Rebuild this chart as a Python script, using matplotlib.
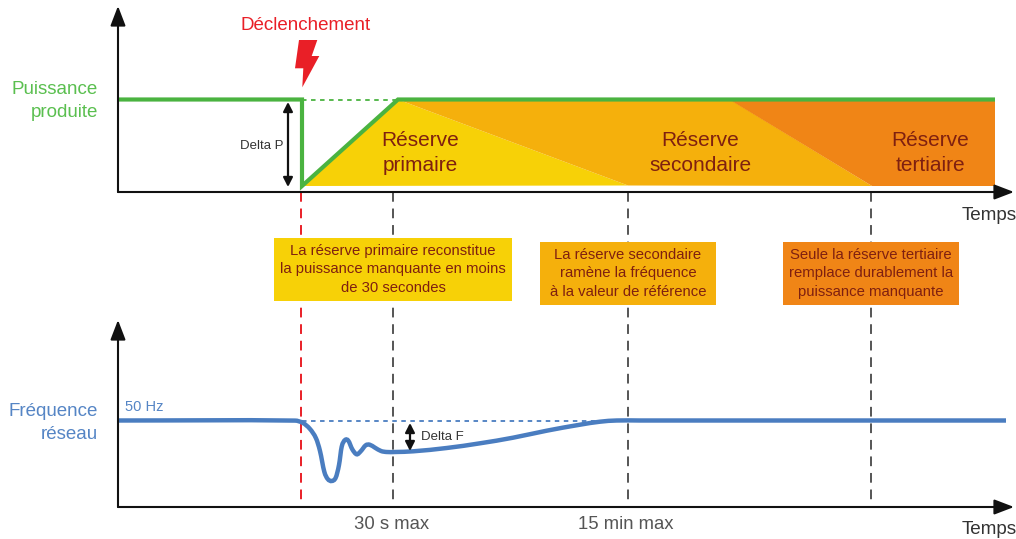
import matplotlib
matplotlib.use('Agg')
import matplotlib.pyplot as plt
from matplotlib.path import Path
from matplotlib.patches import PathPatch, Polygon, Rectangle

plt.rcParams['font.family'] = ['Liberation Sans', 'DejaVu Sans']

power_x = [118, 302, 302, 398, 995]
power_y = [99.5, 99.5, 186, 99.5, 99.5]

freq_x = [118, 295, 303, 310, 316, 320, 324.3, 327.7, 331.7, 335.7, 339, 341.7, 345, 348.3, 352.3,
          356.7, 360.7, 365.7, 369.7, 375, 381, 386.7, 395, 413.3, 446.7, 480, 513, 546.7, 580, 600, 616.7, 640, 1006]
freq_y = [420.5, 420.6, 423, 429, 438.3, 451, 471.7, 479, 481, 477.7, 465, 446.7, 440, 440.7, 449.3,
          454.3, 451.3, 445.3, 444.7, 447.7, 451, 452, 452, 451.3, 448, 443.3, 437.7, 430.7, 424.7, 421.7, 420.5, 420.5, 420.5]

primary_x = [302, 398, 628]
primary_y = [186, 99.5, 185.5]
secondary_x = [398, 730, 872, 628]
secondary_y = [99.5, 99.5, 186, 185.5]
tertiary_x = [730, 995, 995, 872]
tertiary_y = [99.5, 99.5, 186, 186]

bolt_x = [299, 317.3, 311.7, 319.3, 302.3, 303.3, 295]
bolt_y = [40, 40, 56, 56, 87.3, 68.3, 68.3]

trigger_x = 301
step_x = [393, 628, 871]

box_text = ["La réserve primaire reconstitue\nla puissance manquante en moins\nde 30 secondes",
            "La réserve secondaire\nramène la fréquence\nà la valeur de référence",
            "Seule la réserve tertiaire\nremplace durablement la\npuissance manquante"]
box_left = [274, 540, 783]
box_right = [512, 716, 959]
box_top = [238, 242, 242]
box_bottom = [301, 305, 305]

YELLOW = '#F7D107'
AMBER = '#F5B00C'
ORANGE = '#F08516'
BROWN = '#7F2010'
GREEN = '#4AB340'
BLUE = '#4A7DC0'
RED = '#E91F27'
GREY = '#555555'
DARK = '#333333'


def smooth_path(x, y):
    # smooth curve through the read points, drawn as bezier segments
    n = len(x)
    slope = []
    for i in range(n):
        a, b = max(i - 1, 0), min(i + 1, n - 1)
        slope.append((y[b] - y[a]) / (x[b] - x[a]))
    verts = [(x[0], y[0])]
    codes = [Path.MOVETO]
    for i in range(n - 1):
        h = (x[i + 1] - x[i]) / 3
        verts.append((x[i] + h, y[i] + slope[i] * h))
        verts.append((x[i + 1] - h, y[i + 1] - slope[i + 1] * h))
        verts.append((x[i + 1], y[i + 1]))
        codes += [Path.CURVE4] * 3
    return Path(verts, codes)


def arrow(ax, start, end, style='-|>,head_length=12,head_width=4.6', lw=1.5):
    ax.annotate('', xy=end, xytext=start, zorder=6,
                arrowprops=dict(arrowstyle=style, color='#111111', lw=lw, shrinkA=0, shrinkB=0,
                                mutation_scale=1))


def main():

    fig = plt.figure(figsize=(10.16, 5.39), dpi=100)
    ax = fig.add_axes([0, 0, 1, 1])
    ax.set_xlim(0, 1016)
    ax.set_ylim(539, 0)
    ax.axis('off')

    # reserve areas
    ax.add_patch(Polygon(list(zip(primary_x, primary_y)), fc=YELLOW, ec='none', zorder=1))
    ax.add_patch(Polygon(list(zip(secondary_x, secondary_y)), fc=AMBER, ec='none', zorder=1))
    ax.add_patch(Polygon(list(zip(tertiary_x, tertiary_y)), fc=ORANGE, ec='none', zorder=1))

    # vertical dashed guides
    ax.plot([trigger_x, trigger_x], [192, 507], color=RED, lw=1.4, dashes=(5, 3.5), zorder=2)
    for x in step_x:
        ax.plot([x, x], [192, 507], color=GREY, lw=1.4, dashes=(5, 3.5), zorder=2)

    # reference levels
    ax.plot([302, 398], [99.5, 99.5], color=GREEN, lw=1.3, dashes=(2.5, 2.5), zorder=2)
    ax.plot([302, 628], [420.5, 420.5], color=BLUE, lw=1.3, dashes=(2.5, 2.5), zorder=2)

    # curves
    ax.plot(power_x, power_y, color=GREEN, lw=3, solid_joinstyle='miter', solid_capstyle='butt', zorder=4)
    ax.add_patch(PathPatch(smooth_path(freq_x, freq_y), fc='none', ec=BLUE, lw=3.2, capstyle='butt', zorder=4))

    ax.add_patch(Polygon(list(zip(bolt_x, bolt_y)), fc=RED, ec='none', zorder=4))

    # axes
    for start, end in [((118, 192), (118, 6)), ((118, 192), (1014, 192)),
                       ((118, 507), (118, 320)), ((118, 507), (1014, 507))]:
        arrow(ax, start, end)

    # delta arrows
    both = '<|-|>,head_length=5.5,head_width=2.8'
    arrow(ax, (288, 102), (288, 187), style=both, lw=1.6)
    arrow(ax, (410, 423), (410, 451), style=both, lw=1.6)

    # note boxes
    colors = [YELLOW, AMBER, ORANGE]
    for i in range(3):
        ax.add_patch(Rectangle((box_left[i], box_top[i]), box_right[i] - box_left[i], box_bottom[i] - box_top[i],
                               fc=colors[i], ec='none', zorder=5))
        ax.text((box_left[i] + box_right[i]) / 2, (box_top[i] + box_bottom[i]) / 2, box_text[i], color=BROWN,
                fontsize=10.7, ha='center', va='center', linespacing=1.38, zorder=6)

    # text
    ax.text(305.5, 25, 'Déclenchement', color=RED, fontsize=13.5, ha='center', va='center')
    ax.text(98, 101, 'Puissance\nproduite', color='#5ABF4F', fontsize=13.5, ha='right', va='center', linespacing=1.4)
    ax.text(97.5, 423, 'Fréquence\nréseau', color='#5585C5', fontsize=13.5, ha='right', va='center', linespacing=1.4)
    ax.text(125, 407, '50 Hz', color='#5585C5', fontsize=10.5, ha='left', va='center')
    ax.text(283, 146, 'Delta P', color=DARK, fontsize=9.5, ha='right', va='center')
    ax.text(421, 437, 'Delta F', color=DARK, fontsize=9.5, ha='left', va='center')
    ax.text(420, 153, 'Réserve\nprimaire', color=BROWN, fontsize=15, ha='center', va='center', linespacing=1.45, zorder=5)
    ax.text(700, 153, 'Réserve\nsecondaire', color=BROWN, fontsize=15, ha='center', va='center', linespacing=1.45, zorder=5)
    ax.text(930, 153, 'Réserve\ntertiaire', color=BROWN, fontsize=15, ha='center', va='center', linespacing=1.45, zorder=5)
    ax.text(1016.5, 215, 'Temps', color=DARK, fontsize=13.6, ha='right', va='center')
    ax.text(1016.5, 530, 'Temps', color=DARK, fontsize=13.6, ha='right', va='center')
    ax.text(391.5, 524.5, '30 s max', color=GREY, fontsize=13.3, ha='center', va='center')
    ax.text(626, 524.5, '15 min max', color=GREY, fontsize=13.3, ha='center', va='center')

    fig.savefig('out.png', dpi=100)


if __name__ == '__main__':
    main()
